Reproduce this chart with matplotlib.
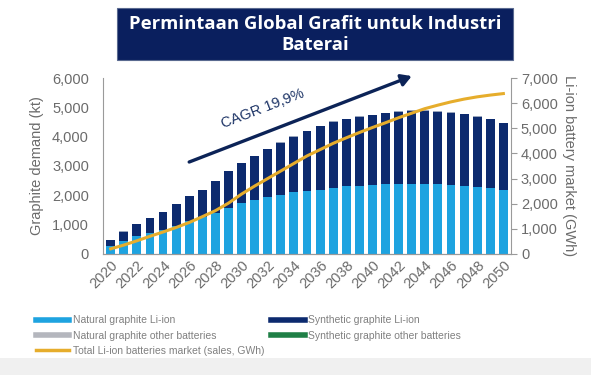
import matplotlib.pyplot as plt
from matplotlib.lines import Line2D
from matplotlib.patches import Rectangle

plt.rcParams['font.family'] = ['Liberation Sans', 'DejaVu Sans']

years = list(range(2020, 2051))

# kt
natural_liion = [260, 430, 600, 720, 830, 940, 1110, 1260, 1400, 1570, 1720,
                 1830, 1940, 2020, 2110, 2160, 2190, 2250, 2300, 2330, 2360,
                 2370, 2390, 2400, 2400, 2390, 2360, 2330, 2280, 2250, 2170]
total_demand = [490, 770, 1030, 1230, 1440, 1700, 1970, 2190, 2490, 2830, 3100,
                3350, 3580, 3810, 4010, 4200, 4370, 4520, 4610, 4690, 4750,
                4810, 4860, 4900, 4900, 4860, 4830, 4780, 4690, 4610, 4470]
natural_other = [12] * 31
synthetic_other = [0] * 31
synthetic_liion = [t - n - a - b for t, n, a, b in
                   zip(total_demand, natural_liion, natural_other, synthetic_other)]

# GWh
liion_market = [200, 350, 520, 700, 870, 1050, 1250, 1480, 1720, 2020, 2380,
                2700, 3000, 3300, 3600, 3900, 4150, 4400, 4620, 4830, 5030,
                5220, 5420, 5600, 5780, 5920, 6050, 6160, 6250, 6320, 6380]

c_nat = '#1ea3e0'
c_syn = '#0c2a6e'
c_nat_o = '#9aa6bd'
c_syn_o = '#1f7f46'
c_line = '#e6ad2c'
c_text = '#6b6b6b'

fig = plt.figure(figsize=(5.91, 3.75), dpi=100)
fig.patch.set_facecolor('white')

# faint grey band at the bottom
fig.patches.append(Rectangle((0, 0), 1, 0.045, transform=fig.transFigure,
                             facecolor='#f0f0f0', edgecolor='none', zorder=0))

# title box
fig.patches.append(Rectangle((0.198, 0.84), 0.67, 0.138, transform=fig.transFigure,
                             facecolor='#0a1f5e', edgecolor='#5a6a90', lw=0.8, zorder=1))
fig.text(0.533, 0.909, 'Permintaan Global Grafit untuk Industri\nBaterai',
         ha='center', va='center', color='white', fontsize=13.3,
         fontweight='bold', family='Open Sans', linespacing=1.2)

ax = fig.add_axes([0.174, 0.323, 0.691, 0.469])
ax2 = ax.twinx()

w = 0.68
ax.bar(years, natural_liion, w, color=c_nat, zorder=2)
b1 = natural_liion
ax.bar(years, synthetic_liion, w, bottom=b1, color=c_syn, zorder=2)
b2 = [a + b for a, b in zip(b1, synthetic_liion)]
ax.bar(years, natural_other, w, bottom=b2, color=c_nat_o, zorder=2)
b3 = [a + b for a, b in zip(b2, natural_other)]
ax.bar(years, synthetic_other, w, bottom=b3, color=c_syn_o, zorder=2)

ax2.plot(years, liion_market, color=c_line, lw=2.2, zorder=3)

ax.set_ylim(0, 6000)
ax.set_yticks(range(0, 6001, 1000))
ax.set_yticklabels([f'{v:,}' for v in range(0, 6001, 1000)])
ax2.set_ylim(0, 7000)
ax2.set_yticks(range(0, 7001, 1000))
ax2.set_yticklabels([f'{v:,}' for v in range(0, 7001, 1000)])
ax.set_xlim(2019.4, 2050.6)
ax.set_xticks(years[::2])
ax.set_xticklabels([str(y) for y in years[::2]], rotation=45, ha='right',
                   rotation_mode='anchor')

for a in (ax, ax2):
    for s in a.spines.values():
        s.set_color('#9a9a9a')
    a.spines['top'].set_visible(False)
    a.tick_params(colors=c_text, labelsize=10.5)
ax.spines['right'].set_visible(False)
ax2.spines['left'].set_visible(False)
ax.tick_params(axis='y', length=0, pad=10)
ax.tick_params(axis='x', length=0, pad=3)
ax2.tick_params(axis='y', length=4, color='#9a9a9a', pad=3)

ax.set_ylabel('Graphite demand (kt)', color=c_text, fontsize=10.5, labelpad=6)
ax2.set_ylabel('Li-ion battery market (GWh)', color=c_text, fontsize=10.5,
               rotation=270, labelpad=13)

# CAGR arrow and label
ax.annotate('', xy=(2043.2, 6100), xytext=(2025.8, 3100),
            arrowprops=dict(arrowstyle='-|>,head_length=0.6,head_width=0.35',
                            color='#0c2357', lw=2.4),
            annotation_clip=False, zorder=5)
ax.text(2031.6, 4950, 'CAGR 19,9%', rotation=21, color='#1d3466',
        fontsize=10.5, ha='center', va='center', zorder=5)

handles = [
    Line2D([], [], color=c_nat, lw=4),
    Line2D([], [], color='#b4b6bd', lw=4),
    Line2D([], [], color=c_line, lw=2.5),
    Line2D([], [], color=c_syn, lw=4),
    Line2D([], [], color=c_syn_o, lw=4),
]
labels = [
    'Natural graphite Li-ion',
    'Natural graphite other batteries',
    'Total Li-ion batteries market (sales, GWh)',
    'Synthetic graphite Li-ion',
    'Synthetic graphite other batteries',
]
leg = fig.legend(handles, labels, ncol=2, loc='upper left',
                 bbox_to_anchor=(0.054, 0.17), frameon=False, fontsize=7.5,
                 handlelength=3.2, handletextpad=0.3, columnspacing=0.7,
                 labelspacing=0.5, borderaxespad=0)
for t in leg.get_texts():
    t.set_color('#808080')

fig.savefig('out.png', dpi=100)
